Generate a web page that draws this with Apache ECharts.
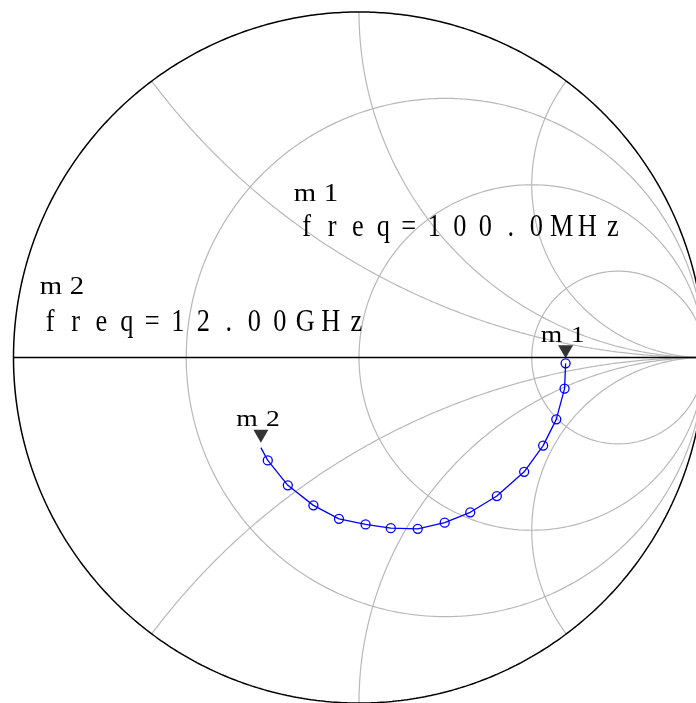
<!DOCTYPE html>
<html>
<head>
<meta charset="utf-8">
<script src="https://cdn.jsdelivr.net/npm/echarts@6/dist/echarts.min.js"></script>
<style>
  html, body { margin: 0; padding: 0; background: #ffffff; }
  #chart { width: 696px; height: 703px; }
</style>
</head>
<body>
<div id="chart"></div>
<script>
// Reflection coefficient S11 (real / imaginary), 100 MHz .. 12 GHz
const reflRe = [0.598, 0.595, 0.571, 0.533, 0.478, 0.399, 0.322, 0.248, 0.170, 0.092, 0.019, -0.058, -0.132, -0.206, -0.264, -0.284];
const reflIm = [-0.017, -0.090, -0.179, -0.255, -0.331, -0.401, -0.448, -0.478, -0.496, -0.494, -0.483, -0.467, -0.428, -0.370, -0.298, -0.261];

// Smith chart grid: normalized resistance circles and reactance arcs
const resistanceCircles = [1 / 3, 1, 3];
const reactanceArcs = [0.5, 1, 2, -0.5, -1, -2];

// Markers
const markerNames = ['m1', 'm2'];
const markerIndex = [0, 15];
const markerFreq = ['100.0MHz', '12.00GHz'];

function resistanceCircle(r) {
  const c = r / (1 + r), rad = 1 / (1 + r);
  const pts = [];
  for (let i = 0; i <= 720; i++) {
    const t = (i / 720) * 2 * Math.PI;
    pts.push([c + rad * Math.cos(t), rad * Math.sin(t)]);
  }
  return pts;
}

function reactanceArc(x) {
  const pts = [];
  const n = 600;
  for (let i = 0; i <= n; i++) {
    const s = i / n;
    if (s >= 1) { pts.push([1, 0]); break; }
    const r = s / (1 - s);
    const den = (r + 1) * (r + 1) + x * x;
    pts.push([(r * r - 1 + x * x) / den, (2 * x) / den]);
  }
  return pts;
}

const gridStyle = { color: '#b8b8b8', width: 1.2 };
const series = [];

resistanceCircles.forEach(r => series.push({
  type: 'line', data: resistanceCircle(r), symbol: 'none', silent: true,
  lineStyle: gridStyle, z: 1, clip: false, animation: false
}));
reactanceArcs.forEach(x => series.push({
  type: 'line', data: reactanceArc(x), symbol: 'none', silent: true,
  lineStyle: gridStyle, z: 1, clip: false, animation: false
}));

// outer boundary |Γ| = 1 and the real axis
series.push({
  type: 'line', data: resistanceCircle(0), symbol: 'none', silent: true,
  lineStyle: { color: '#000000', width: 1.5 }, z: 2, clip: false, animation: false
});
series.push({
  type: 'line', data: [[-1, 0], [1, 0]], symbol: 'none', silent: true,
  lineStyle: { color: '#000000', width: 1.3 }, z: 2, clip: false, animation: false
});

// S11 trace
series.push({
  type: 'line',
  data: reflRe.map((v, i) => ({
    value: [v, reflIm[i]],
    symbol: i === reflRe.length - 1 ? 'none' : 'circle'
  })),
  symbolSize: 9,
  showAllSymbol: true,
  lineStyle: { color: '#0000ff', width: 1.3 },
  itemStyle: { color: 'rgba(0,0,0,0)', borderColor: '#0000ff', borderWidth: 1.3 },
  z: 5, clip: false, animation: false
});

// marker triangles
series.push({
  type: 'scatter',
  data: markerIndex.map(i => [reflRe[i], reflIm[i]]),
  symbol: 'path://M0,0 L15,0 L7.5,13 Z',
  symbolSize: [15, 13],
  symbolOffset: [0, -11.5],
  itemStyle: { color: '#000000' },
  z: 6, silent: true, animation: false
});

const chart = echarts.init(document.getElementById('chart'), null, { renderer: 'canvas' });
const axisCommon = { type: 'value', min: -1, max: 1, show: false, splitLine: { show: false } };
chart.setOption({
  backgroundColor: '#ffffff',
  animation: false,
  grid: { left: 13.5, top: 12, width: 691, height: 691, outerBoundsMode: 'none', containLabel: false },
  xAxis: axisCommon,
  yAxis: axisCommon,
  series: series
});

const FONT = '"Liberation Serif", "DejaVu Serif", serif';

// fixed-pitch text: every character sits in a cell of equal width
function textEl(text, x, y, size, sx, pitch) {
  const cell = pitch / sx;
  return {
    type: 'text', x: x, y: y, scaleX: sx, silent: true, z: 10,
    style: {
      text: text.split('').map(ch => '{c|' + ch + '}').join(''),
      fill: '#000000',
      font: size + 'px ' + FONT,
      textAlign: 'left', textVerticalAlign: 'middle',
      rich: {
        c: { width: cell, align: 'center', fontSize: size, fontFamily: FONT, fill: '#000000' }
      }
    }
  };
}

const graphics = [
  textEl(markerNames[0], 292, 194, 25, 1.15, 26),
  textEl('freq=' + markerFreq[0], 294, 228, 31, 0.85, 25.5),
  textEl(markerNames[1], 38, 287, 25, 1.15, 26),
  textEl('freq=' + markerFreq[1], 37.5, 322.5, 31, 0.85, 25.5)
];

// marker names next to their triangles
markerIndex.forEach((idx, k) => {
  const p = chart.convertToPixel({ gridIndex: 0 }, [reflRe[idx], reflIm[idx]]);
  graphics.push(textEl(markerNames[k], p[0] - 27, p[1] - 28, 24, 1.15, 26));
});

chart.setOption({ graphic: graphics });
</script>
</body>
</html>
